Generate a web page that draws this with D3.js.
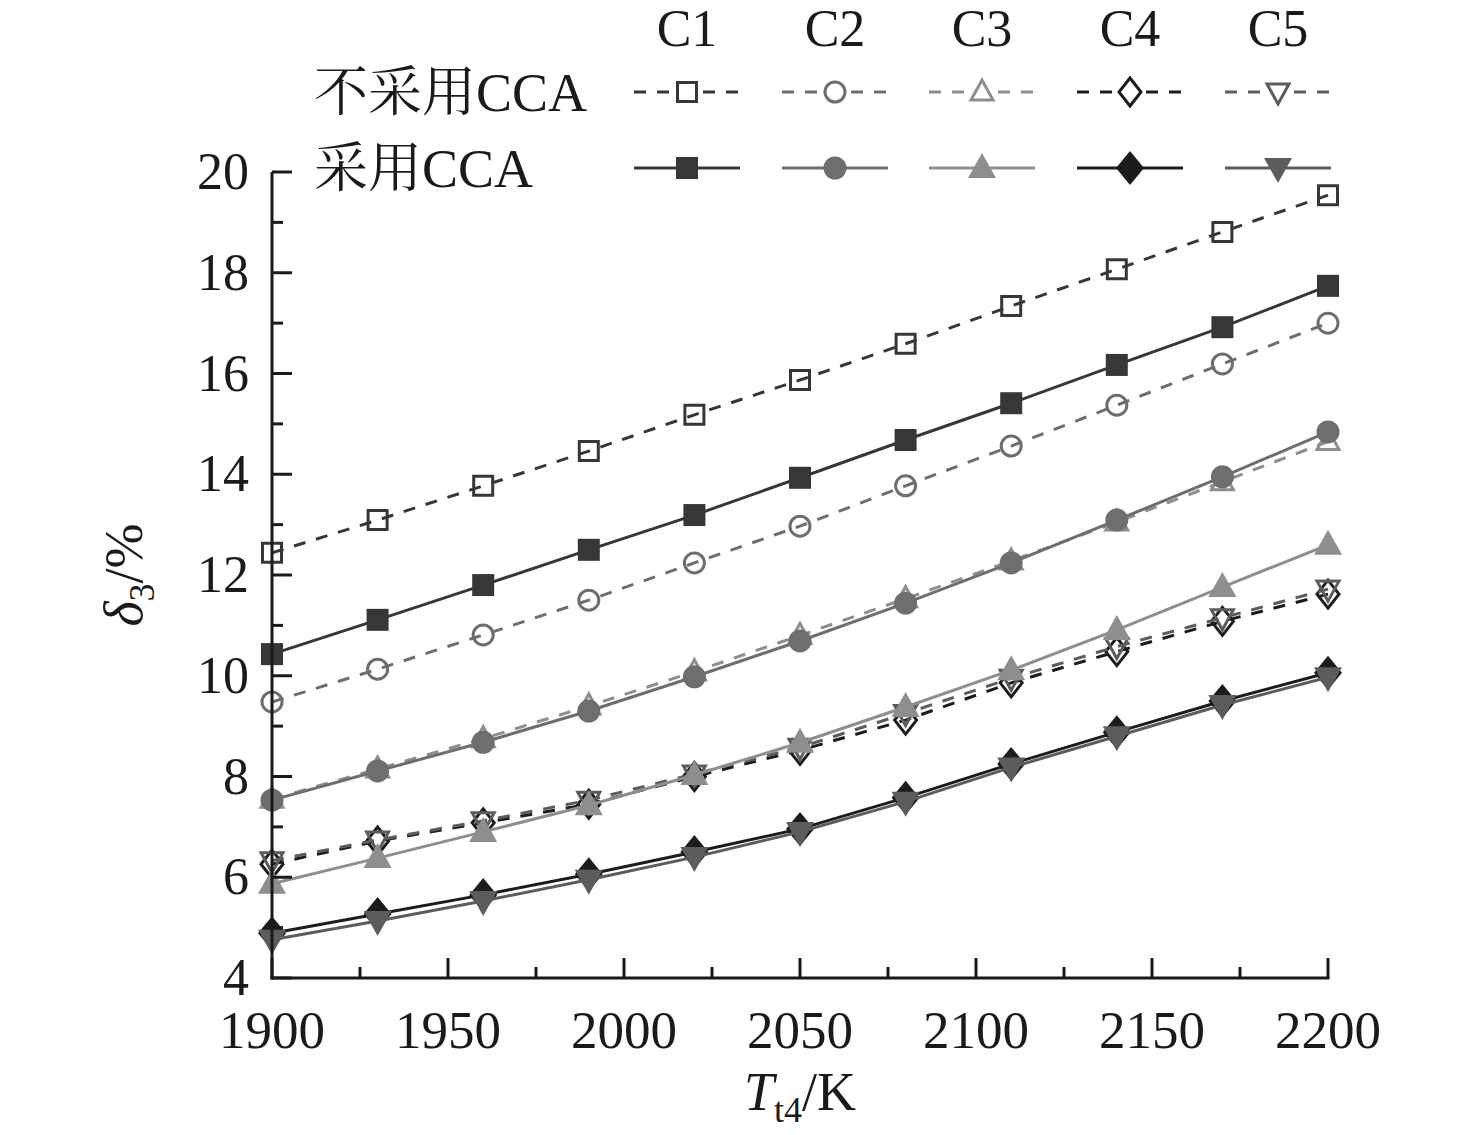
<!DOCTYPE html>
<html>
<head>
<meta charset="utf-8">
<script src="https://cdn.jsdelivr.net/npm/d3@7"></script>
<style>
  body { margin: 0; background: #fff; }
  svg { display: block; font-family: "Liberation Serif", "Noto Serif CJK SC", "Noto Sans CJK SC", serif; }
</style>
</head>
<body>
<div id="chart"></div>
<script>
// Temperature points (K)
const temps = [1900, 1930, 1960, 1990, 2020, 2050, 2080, 2110, 2140, 2170, 2200];

// delta_3 (%) without CCA
const noC1 = [12.44, 13.09, 13.77, 14.46, 15.18, 15.87, 16.59, 17.34, 18.07, 18.81, 19.54];
const noC2 = [9.48, 10.13, 10.81, 11.50, 12.24, 12.97, 13.77, 14.56, 15.37, 16.19, 17.00];
const noC3 = [7.55, 8.15, 8.75, 9.40, 10.08, 10.80, 11.53, 12.28, 13.05, 13.85, 14.65];
const noC4 = [6.26, 6.72, 7.08, 7.45, 8.00, 8.52, 9.12, 9.86, 10.48, 11.08, 11.62];
const noC5 = [6.33, 6.74, 7.12, 7.53, 8.05, 8.58, 9.25, 9.95, 10.58, 11.15, 11.72];

// delta_3 (%) with CCA
const ccaC1 = [10.43, 11.11, 11.80, 12.50, 13.19, 13.93, 14.68, 15.41, 16.17, 16.92, 17.74];
const ccaC2 = [7.53, 8.11, 8.68, 9.30, 9.98, 10.69, 11.44, 12.24, 13.09, 13.95, 14.84];
const ccaC3 = [5.87, 6.38, 6.90, 7.43, 8.03, 8.67, 9.38, 10.11, 10.91, 11.76, 12.60];
const ccaC4 = [4.89, 5.27, 5.65, 6.06, 6.50, 6.96, 7.58, 8.25, 8.88, 9.50, 10.06];
const ccaC5 = [4.76, 5.13, 5.53, 5.95, 6.40, 6.90, 7.50, 8.18, 8.80, 9.42, 9.97];

const caseNames = ["C1", "C2", "C3", "C4", "C5"];
const rowLabels = ["不采用CCA", "采用CCA"];
const xTicks = [1900, 1950, 2000, 2050, 2100, 2150, 2200];
const yTicks = [4, 6, 8, 10, 12, 14, 16, 18, 20];

const W = 1476, H = 1135;
const svg = d3.select("#chart").append("svg").attr("width", W).attr("height", H);

const x = d3.scaleLinear().domain([1900, 2200]).range([272, 1328]);
const y = d3.scaleLinear().domain([4, 20]).range([978, 172]);

// marker paths
function markerPath(shape, filled) {
    switch (shape) {
        case "square": { const s = filled ? 11 : 9.5; return `M${-s},${-s}H${s}V${s}H${-s}Z`; }
        case "circle": { const r = filled ? 11.5 : 10; return `M${r},0A${r},${r} 0 1,1 ${-r},0A${r},${r} 0 1,1 ${r},0Z`; }
        case "up": { const w = filled ? 14 : 11, t = filled ? 15 : 12, b = filled ? 10 : 8; return `M0,${-t}L${w},${b}L${-w},${b}Z`; }
        case "down": { const w = filled ? 14 : 11, t = filled ? 15 : 12, b = filled ? 10 : 8; return `M0,${t}L${w},${-b}L${-w},${-b}Z`; }
        case "diamond": { const w = filled ? 14 : 11, h = filled ? 17 : 14; return `M0,${-h}L${w},0L0,${h}L${-w},0Z`; }
    }
}

const styles = [
    { color: "#373737", shape: "square" },
    { color: "#6e6e6e", shape: "circle" },
    { color: "#8e8e8e", shape: "up" },
    { color: "#1c1c1c", shape: "diamond" },
    { color: "#5c5c5c", shape: "down" }
];

const noData = [noC1, noC2, noC3, noC4, noC5];
const ccaData = [ccaC1, ccaC2, ccaC3, ccaC4, ccaC5];

const line = d3.line().x(d => x(d[0])).y(d => y(d[1]));

function drawSeries(values, st, dashed) {
    const pts = temps.map((t, i) => [t, values[i]]);
    const g = svg.append("g");
    g.append("path")
        .datum(pts)
        .attr("d", line)
        .attr("fill", "none")
        .attr("stroke", st.color)
        .attr("stroke-width", 3)
        .attr("stroke-dasharray", dashed ? "12,11" : null);
    g.selectAll("path.m")
        .data(pts)
        .enter()
        .append("path")
        .attr("class", "m")
        .attr("transform", d => `translate(${x(d[0])},${y(d[1])})`)
        .attr("d", markerPath(st.shape, !dashed))
        .attr("fill", dashed ? "none" : st.color)
        .attr("stroke", st.color)
        .attr("stroke-width", dashed ? 3 : 0);
}

// dashed (without CCA) first, solid on top
noData.forEach((v, i) => drawSeries(v, styles[i], true));
ccaData.forEach((v, i) => drawSeries(v, styles[i], false));

// axes
const axisColor = "#1a1a1a";
svg.append("line").attr("x1", x(1900)).attr("x2", x(1900)).attr("y1", y(4) + 1.5).attr("y2", y(20))
    .attr("stroke", axisColor).attr("stroke-width", 3);
svg.append("line").attr("x1", x(1900) - 1.5).attr("x2", x(2200) + 1.5).attr("y1", y(4)).attr("y2", y(4))
    .attr("stroke", axisColor).attr("stroke-width", 3);

// y ticks (inward), major and minor
d3.range(4, 20.5, 1).forEach(v => {
    const major = v % 2 === 0;
    svg.append("line")
        .attr("x1", x(1900)).attr("x2", x(1900) + (major ? 20 : 11))
        .attr("y1", y(v)).attr("y2", y(v))
        .attr("stroke", axisColor).attr("stroke-width", 3);
});
svg.selectAll("text.yt").data(yTicks).enter().append("text")
    .attr("x", 249).attr("y", d => y(d) + 17)
    .attr("text-anchor", "end")
    .style("font-size", "52px").attr("fill", "#1a1a1a")
    .text(d => d);

// x ticks (inward)
d3.range(1900, 2201, 25).forEach(v => {
    const major = v % 50 === 0;
    svg.append("line")
        .attr("x1", x(v)).attr("x2", x(v))
        .attr("y1", y(4)).attr("y2", y(4) - (major ? 20 : 11))
        .attr("stroke", axisColor).attr("stroke-width", 3);
});
svg.selectAll("text.xt").data(xTicks).enter().append("text")
    .attr("x", d => x(d)).attr("y", 1048)
    .attr("text-anchor", "middle")
    .style("font-size", "53px").attr("fill", "#1a1a1a")
    .text(d => d);

// axis titles
const xt = svg.append("text").attr("x", 800).attr("y", 1110).attr("text-anchor", "middle")
    .style("font-size", "54px").attr("fill", "#1a1a1a");
xt.append("tspan").style("font-style", "italic").text("T");
xt.append("tspan").attr("dy", 12).style("font-size", "36px").text("t4");
xt.append("tspan").attr("dy", -12).text("/K");

const yt = svg.append("text").attr("transform", "translate(142,575) rotate(-90)").attr("text-anchor", "middle")
    .style("font-size", "54px").attr("fill", "#1a1a1a");
yt.append("tspan").style("font-style", "italic").text("δ");
yt.append("tspan").attr("dy", 12).style("font-size", "36px").text("3");
yt.append("tspan").attr("dy", -12).text("/%");

// legend
const legCx = [687, 835, 982, 1130, 1278];
const rowY = [92, 168];
svg.selectAll("text.lc").data(caseNames).enter().append("text")
    .attr("x", (d, i) => legCx[i]).attr("y", 46)
    .attr("text-anchor", "middle")
    .style("font-size", "52px").attr("fill", "#1a1a1a")
    .text(d => d);

rowLabels.forEach((lab, r) => {
    svg.append("text")
        .attr("x", 314).attr("y", rowY[r] + 19)
        .style("font-size", "54px").attr("fill", "#1a1a1a")
        .text(lab);
    styles.forEach((st, i) => {
        const dashed = r === 0;
        svg.append("line")
            .attr("x1", legCx[i] - 53).attr("x2", legCx[i] + 53)
            .attr("y1", rowY[r]).attr("y2", rowY[r])
            .attr("stroke", st.color).attr("stroke-width", 3)
            .attr("stroke-dasharray", dashed ? "12,11" : null);
        svg.append("path")
            .attr("transform", `translate(${legCx[i]},${rowY[r]})`)
            .attr("d", markerPath(st.shape, !dashed))
            .attr("fill", dashed ? "#fff" : st.color)
            .attr("stroke", st.color)
            .attr("stroke-width", dashed ? 3 : 0);
    });
});
</script>
</body>
</html>
